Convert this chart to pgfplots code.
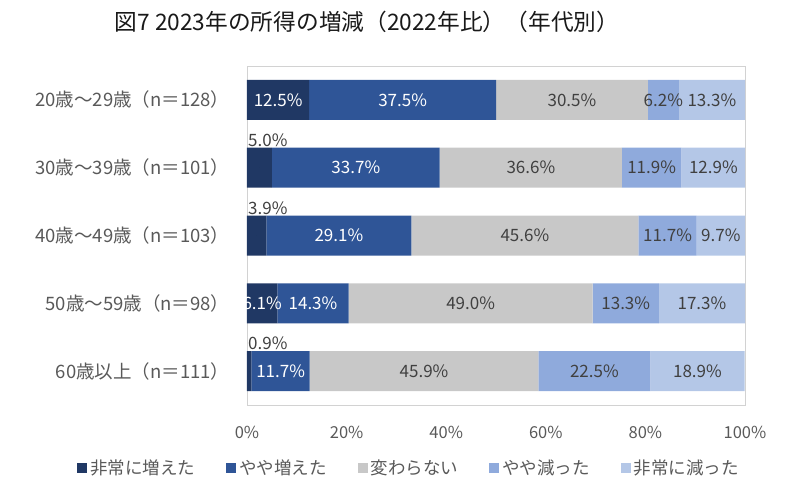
\documentclass[border=0pt]{standalone}
\usepackage{pgfplots}
\usepackage{pgfplotstable}
\pgfplotsset{compat=1.18}
\usepackage{fontspec}
\setmainfont{Noto Sans CJK JP}
\definecolor{c1}{HTML}{203864}
\definecolor{c2}{HTML}{2F5597}
\definecolor{c3}{HTML}{C8C8C8}
\definecolor{c4}{HTML}{8FAADC}
\definecolor{c5}{HTML}{B4C7E7}
\definecolor{tick}{HTML}{595959}
\definecolor{lab}{HTML}{404040}
\pgfplotstableread{
y s1 s2 s3 s4 s5
0 0.9 11.7 45.9 22.5 18.9
1 6.1 14.3 49.0 13.3 17.3
2 3.9 29.1 45.6 11.7 9.7
3 5.0 33.7 36.6 11.9 12.9
4 12.5 37.5 30.5 6.2 13.3
}\data
\pgfplotsset{
  common/.style={at={(247pt,86pt)}, anchor=south west,
    scale only axis, width=498pt, height=339pt,
    xmin=0, xmax=100, ymin=-0.5, ymax=4.5},
  lbl/.style={only marks, mark=*, mark size=0pt, mark options={draw=none, fill=none},
    point meta=explicit symbolic,
    nodes near coords={\pgfmathprintnumber[fixed,fixed zerofill,precision=1]{\pgfplotspointmeta}\%},
    every node near coord/.append style={anchor=center, inner sep=0pt, font=\fontsize{17}{20}\selectfont, text=#1}},
}
\begin{document}
\begin{tikzpicture}[x=1pt,y=1pt]
\useasboundingbox (0,0) rectangle (788,491);
\node[font=\fontsize{22.7}{26}\selectfont, text=black!90] at (367,469) {図7 2023年の所得の増減（2022年比）（年代別）};
\begin{axis}[
  common,
  xbar stacked, bar width=0.59,
  ytick={0,1,2,3,4},
  yticklabels={60歳以上（n＝111）,50歳～59歳（n＝98）,40歳～49歳（n＝103）,30歳～39歳（n＝101）,20歳～29歳（n＝128）},
  xtick={0,20,40,60,80,100},
  xticklabel={\pgfmathprintnumber{\tick}\%},
  /pgf/number format/assume math mode=true,
  major tick length=0pt,
  axis line style={draw=gray!35},
  ticklabel style={text=tick},
  yticklabel style={xshift=-14pt, font=\fontsize{18.5}{21}\selectfont},
  xticklabel style={yshift=-18pt, font=\fontsize{16.5}{20}\selectfont},
  legend style={at={(0.325,-0.186)}, anchor=center, draw=none, fill=none, font=\fontsize{17.5}{20}\selectfont, text=tick, legend columns=5, /tikz/every even column/.append style={column sep=29pt}, /tikz/every odd column/.append style={column sep=1pt}},
  legend image code/.code={\fill[#1] (0pt,-5pt) rectangle (10pt,5pt);},
]
\addplot[fill=c1, draw=none] table[x=s1, y=y] {\data};
\addplot[fill=c2, draw=none] table[x=s2, y=y] {\data};
\addplot[fill=c3, draw=none] table[x=s3, y=y] {\data};
\addplot[fill=c4, draw=none] table[x=s4, y=y] {\data};
\addplot[fill=c5, draw=none] table[x=s5, y=y] {\data};
\legend{非常に増えた,やや増えた,変わらない,やや減った,非常に減った}
\end{axis}
\begin{axis}[common, hide axis, /pgf/number format/assume math mode=true]
\addplot[lbl=white,
  nodes near coords={\ifdim\pgfplotspointmeta pt<6pt\relax\else\pgfmathprintnumber[fixed,fixed zerofill,precision=1]{\pgfplotspointmeta}\%\fi}]
  table[x expr=\thisrow{s1}/2, y=y, meta=s1] {\data};
\addplot[lbl=white] table[x expr=\thisrow{s1}+\thisrow{s2}/2, y=y, meta=s2] {\data};
\addplot[lbl=lab] table[x expr=\thisrow{s1}+\thisrow{s2}+\thisrow{s3}/2, y=y, meta=s3] {\data};
\addplot[lbl=lab] table[x expr=\thisrow{s1}+\thisrow{s2}+\thisrow{s3}+\thisrow{s4}/2, y=y, meta=s4] {\data};
\addplot[lbl=lab] table[x expr=\thisrow{s1}+\thisrow{s2}+\thisrow{s3}+\thisrow{s4}+\thisrow{s5}/2, y=y, meta=s5] {\data};
\node[anchor=south west, inner sep=1pt, text=lab, font=\fontsize{17}{20}\selectfont] at (axis cs:0,3.295) {5.0\%};
\node[anchor=south west, inner sep=1pt, text=lab, font=\fontsize{17}{20}\selectfont] at (axis cs:0,2.295) {3.9\%};
\node[anchor=south west, inner sep=1pt, text=lab, font=\fontsize{17}{20}\selectfont] at (axis cs:0,0.295) {0.9\%};
\end{axis}
\end{tikzpicture}
\end{document}
